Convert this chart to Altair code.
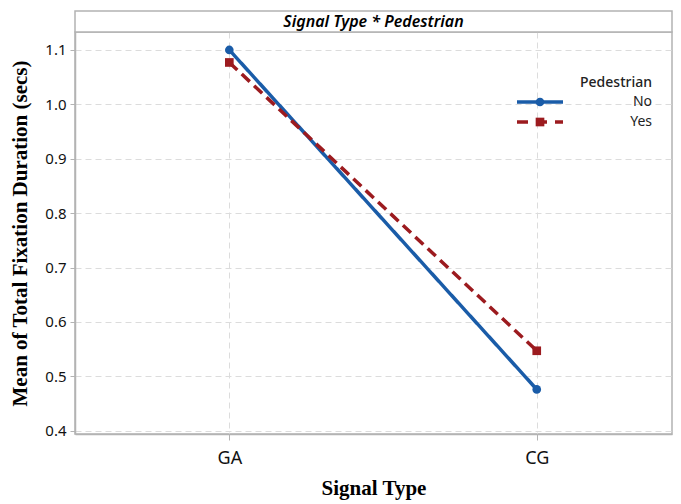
import altair as alt
import pandas as pd

header_text = "Signal Type * Pedestrian"
signal_types = ["GA", "CG"]
signal_pos = [1, 2]
pedestrian = ["No", "Yes"]
mean_no = [1.100, 0.476]
mean_yes = [1.077, 0.547]
y_ticks = [0.4, 0.45, 0.5, 0.55, 0.6, 0.65, 0.7, 0.75, 0.8, 0.85, 0.9, 0.95, 1.0, 1.05, 1.1]
colors = ["#1a5ca8", "#9c1b1f"]
shapes = ["circle", "square"]
dashes = [[1, 0], [11, 6]]
legend_dashes = [[1, 0], [11, 8]]

rows = []
for i, s in enumerate(signal_types):
    rows.append({"Signal Type": s, "pos": signal_pos[i], "Pedestrian": "No", "Mean": mean_no[i]})
    rows.append({"Signal Type": s, "pos": signal_pos[i], "Pedestrian": "Yes", "Mean": mean_yes[i]})
df = pd.DataFrame(rows)

label_expr = "[" + ",".join("'%s'" % s for s in signal_types) + "][datum.value-1]"

W, H = 597, 402

x_enc = alt.X("pos:Q", title="Signal Type",
              scale=alt.Scale(domain=[0.498, 2.44], nice=False, zero=False),
              axis=alt.Axis(values=signal_pos, labelExpr=label_expr,
                            labelFontSize=18, labelPadding=9, titlePadding=10,
                            tickSize=6))
y_enc = alt.Y("Mean:Q", title="Mean of Total Fixation Duration (secs)",
              scale=alt.Scale(domain=[0.394, 1.133], nice=False, zero=False),
              axis=alt.Axis(values=y_ticks,
                            labelExpr="round(datum.value*100) % 10 == 0 ? format(datum.value, '.1f') : ''",
                            tickOpacity={"condition": {"test": "round(datum.value*100) % 10 != 0", "value": 0}, "value": 1},
                            labelFontSize=15, labelPadding=4, titlePadding=14, tickSize=5))

color_scale = alt.Scale(domain=pedestrian, range=colors)

base = alt.Chart(df)

lines = base.mark_line(strokeWidth=3.5).encode(
    x=x_enc, y=y_enc,
    color=alt.Color("Pedestrian:N", scale=color_scale, legend=None),
    strokeDash=alt.StrokeDash("Pedestrian:N", scale=alt.Scale(domain=pedestrian, range=dashes), legend=None),
    detail="Pedestrian:N",
)

point_layers = []
for i, p in enumerate(pedestrian):
    point_layers.append(
        base.transform_filter(alt.datum.Pedestrian == p).mark_point(
            filled=True, size=75, opacity=1, shape=shapes[i]).encode(
            x="pos:Q", y="Mean:Q",
            color=alt.Color("Pedestrian:N", scale=color_scale, legend=None),
        )
    )

# legend (drawn inside the plot, top-right, as in the reference)
leg_df = pd.DataFrame({"Pedestrian": pedestrian, "title": ["Pedestrian"] * len(pedestrian)})
leg_base = alt.Chart(leg_df)
leg_right = W - 20
leg_sym_c = W - 132
legend_layers = [
    leg_base.transform_filter(alt.datum.Pedestrian == pedestrian[0]).mark_text(
        align="right", baseline="middle", font="Noto Sans", fontSize=14, fontWeight=500, color="#222"
    ).encode(text="title:N", x=alt.value(leg_right), y=alt.value(51))
]
for i, p in enumerate(pedestrian):
    yy = 70 + 20 * i
    sub = leg_base.transform_filter(alt.datum.Pedestrian == p)
    legend_layers.append(sub.mark_rule(strokeWidth=3.5, strokeDash=legend_dashes[i], color=colors[i]).encode(
        x=alt.value(leg_sym_c - 23), x2=alt.value(leg_sym_c + 23), y=alt.value(yy)))
    legend_layers.append(sub.mark_point(filled=True, size=75, opacity=1, shape=shapes[i], color=colors[i]).encode(
        x=alt.value(leg_sym_c), y=alt.value(yy)))
    legend_layers.append(sub.mark_text(
        align="right", baseline="middle", font="Noto Sans", fontSize=14, color="#222"
    ).encode(text="Pedestrian:N", x=alt.value(leg_right), y=alt.value(yy)))

hdr = pd.DataFrame({"label": [header_text]})
header_box = alt.Chart(hdr).mark_rect(fill="white", stroke="#b3b3b3", strokeWidth=1.5).encode(
    x=alt.value(0), x2=alt.value(W), y=alt.value(-21), y2=alt.value(0))
header_text_mark = alt.Chart(hdr).mark_text(
    font="Noto Sans", fontStyle="italic", fontWeight=600, fontSize=16, color="black"
).encode(text="label:N", x=alt.value(W / 2), y=alt.value(-10))

chart = alt.layer(lines, *point_layers, *legend_layers, header_box, header_text_mark).properties(
    width=W, height=H
).configure(padding={"left": 1, "top": 2, "right": 0, "bottom": 5}).configure_view(
    stroke="#b3b3b3", strokeWidth=1.5
).configure_axis(
    labelFont="Noto Sans", labelColor="#111",
    titleFont="Liberation Serif", titleFontWeight="bold", titleFontSize=21, titleColor="black",
    gridColor="#dcdcdc", gridDash=[6, 4], gridWidth=1,
    domainColor="#b3b3b3", tickColor="#b3b3b3", domainWidth=1.5,
)

chart.save("out.html", embed_options={"renderer": "svg", "actions": False})
